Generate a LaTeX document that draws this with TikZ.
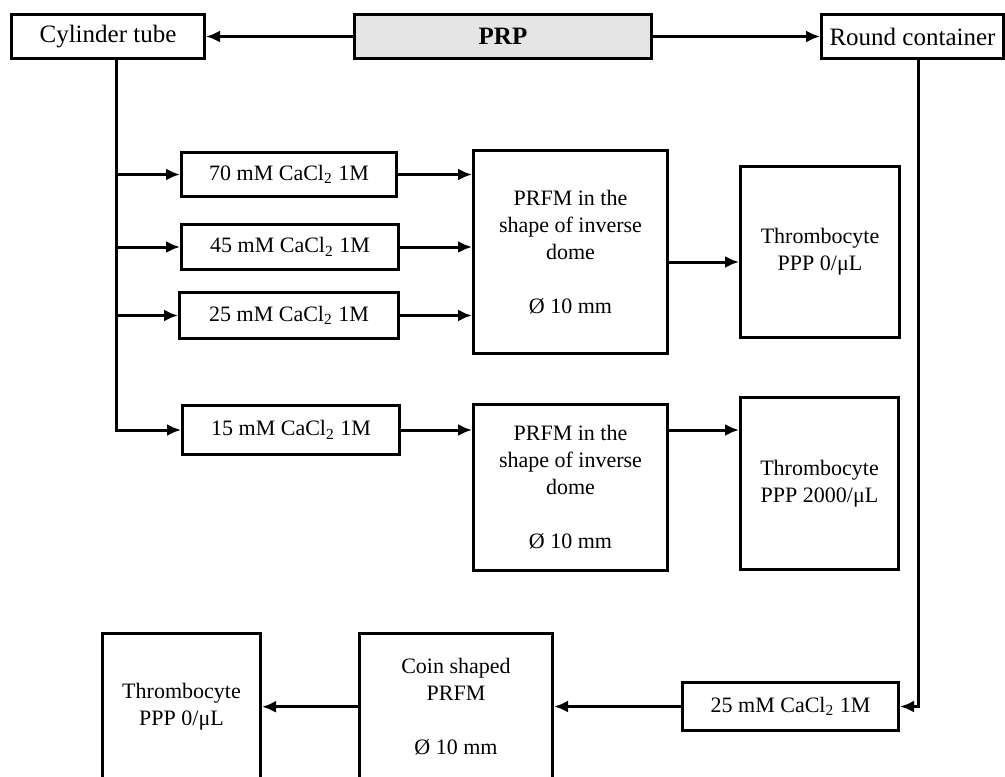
\documentclass[tikz,border=0pt]{standalone}
\usepackage{fontspec}
\setmainfont{Liberation Serif}
\usetikzlibrary{arrows.meta}

\definecolor{prpgray}{RGB}{229,229,229}

\begin{document}
\begin{tikzpicture}[x=0.5pt,y=-0.5pt,->,>={Latex[length=7pt,width=6pt]},
                    line width=1.5pt,
                    box/.style={draw,inner sep=0pt,align=center,
                                font=\fontsize{11}{13.5}\selectfont},
                    topbox/.style={box,minimum height=22pt,
                                font=\fontsize{12.5}{15}\selectfont}]

    \useasboundingbox (0,0) rectangle (1005,776);

    % top row
    \node[topbox,minimum width=96.5pt] (cyl) at (108,36.5) {Cylinder tube};
    \node[topbox,fill=prpgray,minimum width=148.5pt] (prp) at (503,36.5) {\textbf{PRP}};
    \node[topbox,minimum width=91pt] (round) at (912.5,36.5) {Round container};

    % cylinder tube branch
    \node[box,minimum width=107.5pt,minimum height=22pt] (c70) at (289,174.5) {70 mM CaCl\textsubscript{2} 1M};
    \node[box,minimum width=108.5pt,minimum height=22.5pt] (c45) at (290,247) {45 mM CaCl\textsubscript{2} 1M};
    \node[box,minimum width=109.5pt,minimum height=23pt] (c25) at (289,315.5) {25 mM CaCl\textsubscript{2} 1M};
    \node[box,minimum width=108.5pt,minimum height=24.5pt] (c15) at (291,430) {15 mM CaCl\textsubscript{2} 1M};

    \node[box,minimum width=97pt,minimum height=101.5pt] (prfmA) at (570.5,252)
        {PRFM in the\\shape of inverse\\dome\\[13.5pt]Ø 10 mm};
    \node[box,minimum width=79.5pt,minimum height=85.5pt] (thrA) at (820,252)
        {Thrombocyte\\PPP 0/μL};
    \node[box,minimum width=97pt,minimum height=83pt] (prfmB) at (570.5,487.5)
        {PRFM in the\\shape of inverse\\dome\\[13.5pt]Ø 10 mm};
    \node[box,minimum width=79pt,minimum height=86pt] (thrB) at (819.5,483.5)
        {Thrombocyte\\PPP 2000/μL};

    % round container branch
    \node[box,minimum width=108pt,minimum height=24pt] (c25b) at (790.5,706.5) {25 mM CaCl\textsubscript{2} 1M};
    \node[box,minimum width=96.5pt,minimum height=73.25pt] (coin) at (456,706.75)
        {Coin shaped\\PRFM\\[13.5pt]Ø 10 mm};
    \node[box,minimum width=79pt,minimum height=73.25pt] (thrC) at (181.5,706.75)
        {Thrombocyte\\PPP 0/μL};

    \coordinate (ctrunk) at (116,60);
    \coordinate (rtrunk) at (918,60);

    \draw (prp.west) -- (cyl.east);
    \draw (prp.east) -- (round.west);

    \draw (ctrunk) |- (c70.west);
    \draw (ctrunk) |- (c45.west);
    \draw (ctrunk) |- (c25.west);
    \draw (ctrunk) |- (c15.west);

    \draw (c70.east) -- (c70.east -| prfmA.west);
    \draw (c45.east) -- (c45.east -| prfmA.west);
    \draw (c25.east) -- (c25.east -| prfmA.west);
    \draw ([yshift=-5pt]prfmA.east) -- ([yshift=-5pt]prfmA.east -| thrA.west);
    \draw (c15.east) -- (c15.east -| prfmB.west);
    \draw (c15.east -| prfmB.east) -- (c15.east -| thrB.west);

    \draw (rtrunk) |- (c25b.east);
    \draw (c25b.west) -- (c25b.west -| coin.east);
    \draw (coin.west) -- (coin.west -| thrC.east);
\end{tikzpicture}
\end{document}
